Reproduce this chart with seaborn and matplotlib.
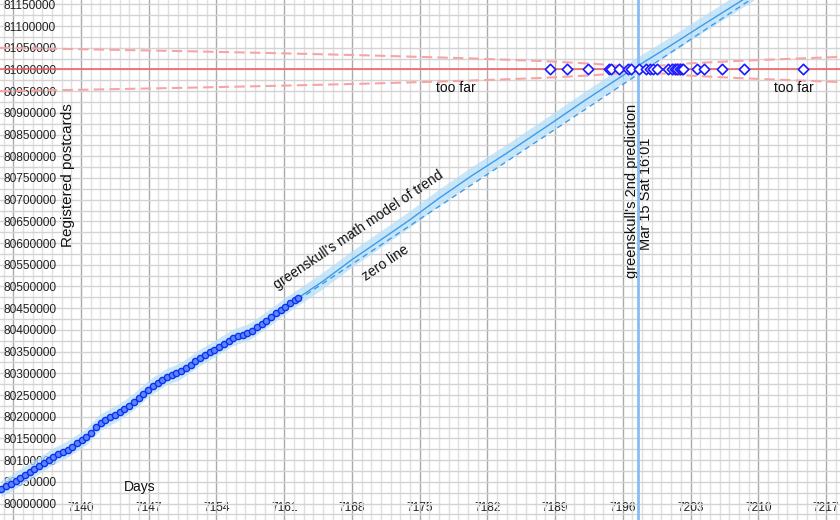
import numpy as np
import matplotlib
matplotlib.use("Agg")
import matplotlib.pyplot as plt
import seaborn as sns

# ---------------- data ----------------
point_days = [
    7131.77, 7132.26, 7132.75, 7133.24, 7133.73, 7134.22, 7134.71, 7135.19,
    7135.68, 7136.17, 7136.66, 7137.15, 7137.64, 7138.13, 7138.62, 7139.11,
    7139.60, 7140.09, 7140.57, 7141.06, 7141.55, 7142.04, 7142.53, 7143.02,
    7143.51, 7144.00, 7144.49, 7144.98, 7145.46, 7145.95, 7146.44, 7146.93,
    7147.42, 7147.91, 7148.40, 7148.89, 7149.38, 7149.87, 7150.36, 7150.84,
    7151.33, 7151.82, 7152.31, 7152.80, 7153.29, 7153.78, 7154.27, 7154.76,
    7155.25, 7155.74, 7156.22, 7156.71, 7157.20, 7157.69, 7158.18, 7158.67,
    7159.16, 7159.65, 7160.14, 7160.63, 7161.11, 7161.60, 7162.09, 7162.43,
]
point_values = [
    80033000, 80039300, 80045700, 80052100, 80058800, 80065600, 80072400, 80079300,
    80086400, 80093500, 80100600, 80107600, 80113000, 80118500, 80124100, 80131200,
    80138300, 80145300, 80152400, 80163600, 80175400, 80186300, 80192300, 80198300,
    80204300, 80210200, 80217600, 80225200, 80233100, 80242700, 80252300, 80261900,
    80270100, 80277200, 80284300, 80291300, 80295600, 80299700, 80304700, 80312300,
    80320000, 80327600, 80335250, 80341700, 80348100, 80354500, 80361000, 80367800,
    80374700, 80381400, 80385300, 80389100, 80392900, 80398400, 80406100, 80413900,
    80421600, 80429600, 80437800, 80445900, 80453700, 80461000, 80468300, 80473500,
]

trend_days = [7162.43, 7165, 7168, 7171, 7174, 7177, 7180.5, 7184, 7188.5,
              7192, 7197, 7201, 7204, 7207, 7211]
trend_values = [80473500, 80512000, 80561700, 80607600, 80653700, 80703200,
                80756900, 80807100, 80874300, 80927600, 81000700, 81055900,
                81098700, 81140800, 81197000]
band_half_width = 19000

zero_days = [7162.43, 7218.0]
zero_values = [80469000, 81291000]

target_value = 81000000
funnel_days = [7131.63, 7140, 7150, 7160, 7170, 7180, 7188, 7193, 7196,
               7197.62, 7199.5, 7203, 7208, 7214, 7218.45]
funnel_offsets = [50000, 46700, 42500, 37700, 32300, 25800, 19100, 13200, 7800,
                  0, 8400, 14300, 19800, 25200, 29000]

guess_days = [7188.48, 7190.27, 7192.41, 7194.58, 7194.78, 7195.61, 7196.57,
              7196.82, 7197.68, 7198.40, 7198.82, 7199.16, 7199.51, 7200.71,
              7201.09, 7201.35, 7201.61, 7201.87, 7202.07, 7202.26, 7203.67,
              7204.35, 7206.23, 7208.48, 7214.63]
guess_values = [81000000] * len(guess_days)

prediction_day = 7197.62

x_ticks = list(range(7133, 7218, 7))
x_tick_labels = [""] + [str(t) for t in x_ticks[1:]]
y_ticks = list(range(80000000, 81150001, 50000))
y_tick_labels = [str(t) for t in y_ticks]

# ---------------- drawing ----------------
sns.set_theme(style="white")
plt.rcParams["font.family"] = ["Liberation Sans", "DejaVu Sans"]

fig = plt.figure(figsize=(8.4, 5.2), dpi=100)
ax = fig.add_axes([0, 0, 1, 1])
ax.set_xlim(7131.63, 7218.45)
ax.set_ylim(79962000, 81160100)

# grid
ax.set_xticks(x_ticks)
ax.set_xticklabels(x_tick_labels)
ax.set_xticks(np.arange(7132, 7219, 1), minor=True)
ax.set_yticks(y_ticks)
ax.set_yticklabels(y_tick_labels)
ax.set_yticks(np.arange(79975000, 81175000, 50000), minor=True)
ax.grid(which="major", axis="x", color="#ababab", lw=1)
ax.grid(which="minor", axis="x", color="#e0e0e0", lw=1)
ax.grid(which="both", axis="y", color="#d3d3d3", lw=1)
ax.set_axisbelow(True)
for s in ax.spines.values():
    s.set_visible(False)

ax.tick_params(axis="both", which="both", length=0, labelcolor="#222222",
               labelsize=8.6)
ax.tick_params(axis="y", pad=-2.5)
ax.tick_params(axis="x", pad=-13)
for lbl in ax.get_yticklabels():
    lbl.set_horizontalalignment("left")

# confidence band
band_days = point_days + trend_days[1:]
band_vals = np.array(point_values + trend_values[1:])
ax.fill_between(band_days, band_vals - band_half_width, band_vals + band_half_width,
                color="#b3def8", alpha=0.7, lw=0, zorder=2)

# target and funnel
ax.axhline(target_value, color="#ee5a5a", lw=1.1, zorder=3)
fo = np.array(funnel_offsets)
sns.lineplot(x=funnel_days, y=target_value + fo, ax=ax, color="#f6a5a5", lw=1.5,
             linestyle=(0, (5, 2.5)), zorder=3)
sns.lineplot(x=funnel_days, y=target_value - fo, ax=ax, color="#f6a5a5", lw=1.5,
             linestyle=(0, (5, 2.5)), zorder=3)

# trend & zero line
sns.lineplot(x=trend_days, y=trend_values, ax=ax, color="#3d9be9", lw=1, zorder=4)
sns.lineplot(x=zero_days, y=zero_values, ax=ax, color="#3d9be9", lw=1,
             linestyle=(0, (4, 3)), zorder=4)

# prediction line
ax.axvline(prediction_day, color="#86bdf5", lw=2, zorder=4)

# data points
sns.lineplot(x=point_days, y=point_values, ax=ax, color="#1f4fff", lw=1,
             marker="o", markersize=4.5, markeredgecolor="#1030f0",
             markerfacecolor="#5a86ff", markeredgewidth=1, zorder=5)

# guesses
sns.scatterplot(x=guess_days, y=guess_values, ax=ax, marker="D", s=28,
                color="white", edgecolor="#1a1aff", linewidth=1.2, zorder=6)

# texts
tc = "#111111"
ax.text(7146.1, 80038000, "Days", fontsize=10, color=tc, ha="center", va="center")
ax.text(7138.7, 80757000, "Registered postcards", fontsize=11, color=tc,
        rotation=90, ha="center", va="center")
ax.text(7168.65, 80630000, "greenskull's math model of trend", fontsize=10,
        color=tc, rotation=34, ha="center", va="center", rotation_mode="anchor")
ax.text(7171.5, 80554000, "zero line", fontsize=10, color=tc, rotation=34,
        ha="center", va="center", rotation_mode="anchor")
ax.text(7178.7, 80958000, "too far", fontsize=10, color=tc, ha="center", va="center")
ax.text(7213.7, 80958000, "too far", fontsize=10, color=tc, ha="center", va="center")
ax.text(7196.99, 80720000, "greenskull's 2nd prediction", fontsize=10.5, color=tc,
        rotation=90, ha="center", va="center")
ax.text(7198.45, 80714000, "Mar 15 Sat 16:01", fontsize=10.5, color=tc,
        rotation=90, ha="center", va="center")

fig.savefig("out.png", dpi=100)
